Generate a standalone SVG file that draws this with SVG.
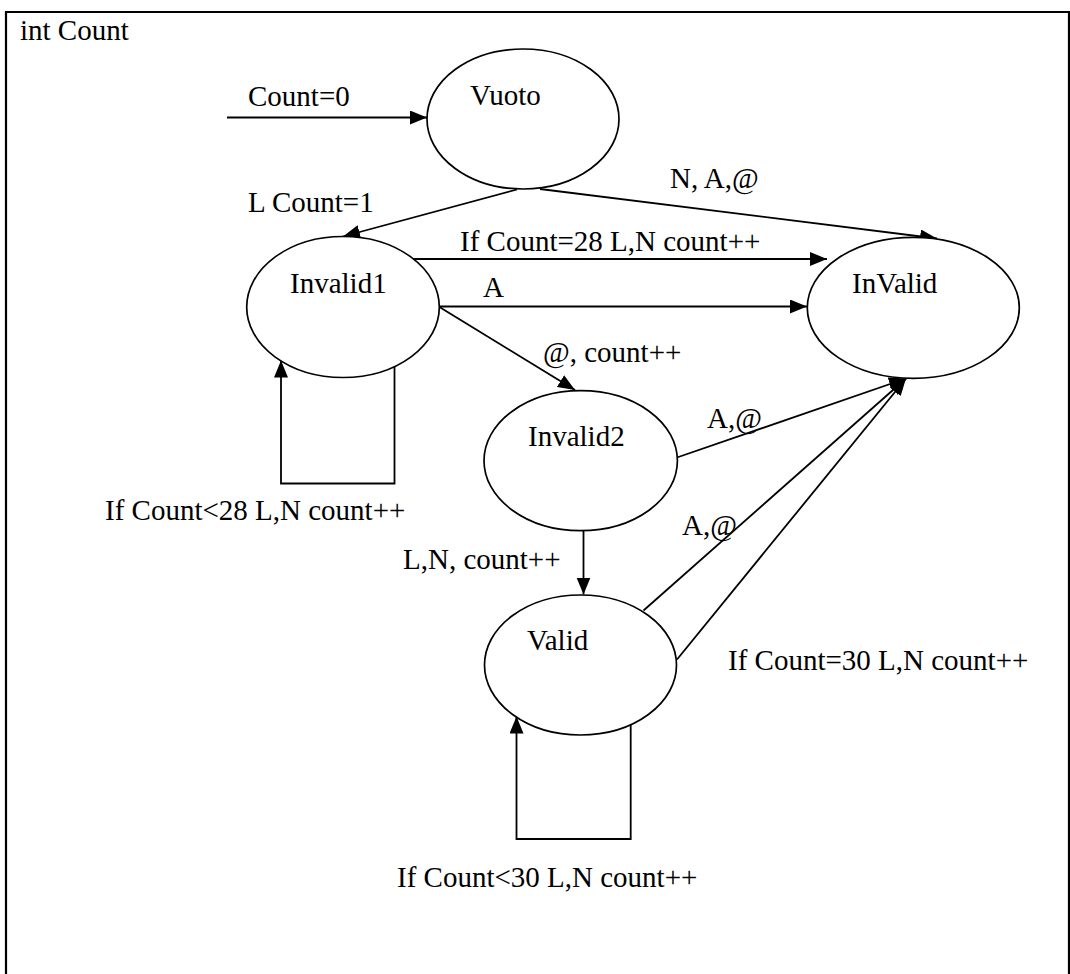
<svg xmlns="http://www.w3.org/2000/svg" width="1070" height="974" viewBox="0 0 1070 974">
  <style>
    text { font-family: "Liberation Serif", "Times New Roman", serif; font-size: 29px; fill: #000; }
    .state { fill: #fff; stroke: #000; stroke-width: 1.7; }
    .edge { fill: none; stroke: #000; stroke-width: 1.8; marker-end: url(#arrow); }
    .frame { fill: none; stroke: #000; stroke-width: 2.2; }
  </style>
  <defs>
    <marker id="arrow" markerUnits="userSpaceOnUse" markerWidth="18" markerHeight="15" refX="17" refY="7" orient="auto">
      <path d="M0,0 L17,7 L0,14 Z" fill="#000"/>
    </marker>
  </defs>

  <rect width="1070" height="974" fill="#fff"/>

  <!-- outer frame, open at the bottom -->
  <path class="frame" d="M6,974 V12 H1069 V974"/>
  <text x="20" y="40">int Count</text>

  <!-- transitions -->
  <g id="connectors">
    <line class="edge" x1="227" y1="117.5" x2="427" y2="117.5"/>
    <line class="edge" x1="517" y1="189.5" x2="343" y2="236.5"/>
    <line class="edge" x1="540" y1="189" x2="937" y2="238.5"/>
    <line class="edge" x1="413" y1="259" x2="827" y2="259"/>
    <line class="edge" x1="439" y1="306.5" x2="807" y2="306.5"/>
    <line class="edge" x1="439" y1="306.7" x2="575" y2="390"/>
    <line class="edge" x1="677" y1="457.5" x2="906" y2="378.5"/>
    <line class="edge" x1="583.5" y1="531" x2="583.5" y2="594.5"/>
    <line class="edge" x1="643.5" y1="610.5" x2="906" y2="378.5"/>
    <line class="edge" x1="677" y1="659.5" x2="906" y2="378.5"/>
    <polyline class="edge" points="394.5,367 394.5,483.5 281,483.5 281,360.5"/>
    <polyline class="edge" points="630.7,724.5 630.7,839 516.5,839 516.5,716.5"/>

    <text x="248" y="105.5">Count=0</text>
    <text x="248" y="212">L Count=1</text>
    <text x="670" y="188">N, A,@</text>
    <text x="460" y="251">If Count=28 L,N count++</text>
    <text x="483" y="296.5">A</text>
    <text x="543" y="361.5">@, count++</text>
    <text x="105" y="520">If Count&lt;28 L,N count++</text>
    <text x="707" y="427.5">A,@</text>
    <text x="682" y="535">A,@</text>
    <text x="403" y="569">L,N, count++</text>
    <text x="728" y="669.5">If Count=30 L,N count++</text>
    <text x="397" y="886.5">If Count&lt;30 L,N count++</text>
  </g>

  <!-- states -->
  <g id="vuoto">
    <ellipse class="state" cx="523" cy="119" rx="96" ry="70"/>
    <text x="470" y="105">Vuoto</text>
  </g>
  <g id="invalid1">
    <ellipse class="state" cx="343" cy="307" rx="96.3" ry="70.5"/>
    <text x="290" y="293.3">Invalid1</text>
  </g>
  <g id="invalid-state">
    <ellipse class="state" cx="913.3" cy="307.8" rx="106" ry="70.5"/>
    <text x="852" y="292.7">InValid</text>
  </g>
  <g id="invalid2">
    <ellipse class="state" cx="580.7" cy="460.7" rx="96.7" ry="70"/>
    <text x="528" y="446">Invalid2</text>
  </g>
  <g id="valid">
    <ellipse class="state" cx="580.5" cy="665" rx="96" ry="70"/>
    <text x="527" y="650">Valid</text>
  </g>
</svg>
